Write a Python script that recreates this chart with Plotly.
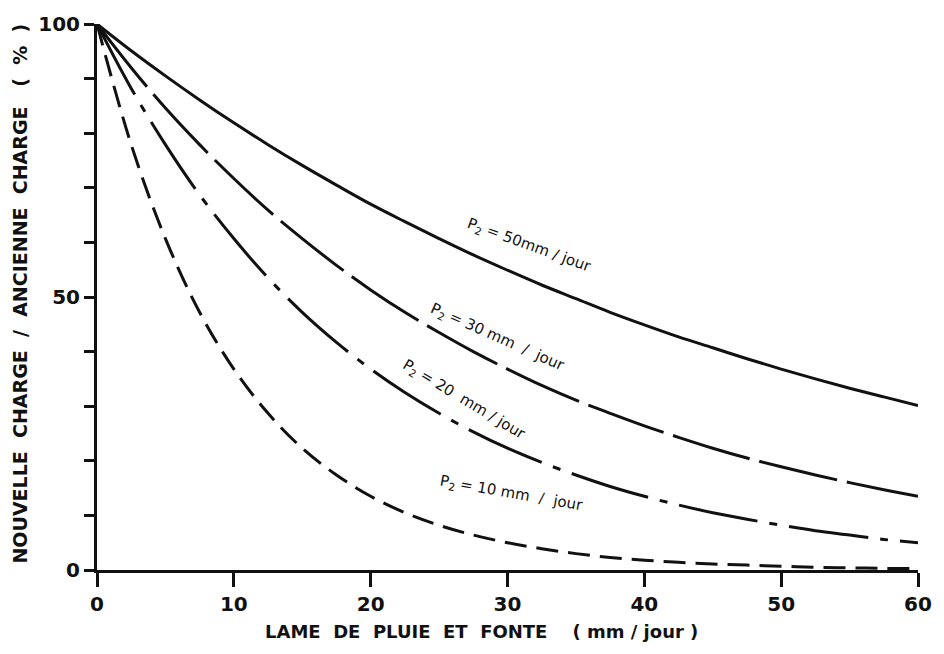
import plotly.graph_objects as go

# Values
x_vals = [0, 2.5, 5, 7.5, 10, 12.5, 15, 17.5, 20, 22.5, 25, 27.5, 30,
          32.5, 35, 37.5, 40, 42.5, 45, 47.5, 50, 52.5, 55, 57.5, 60]
p50 = [100, 95.1, 90.5, 86.1, 81.9, 77.9, 74.1, 70.5, 67.0, 63.8, 60.7, 57.7, 54.9,
       52.2, 49.7, 47.2, 44.9, 42.7, 40.7, 38.7, 36.8, 35.0, 33.3, 31.7, 30.1]
p30 = [100, 92.0, 84.6, 77.9, 71.7, 65.9, 60.7, 55.8, 51.3, 47.2, 43.5, 40.0, 36.8,
       33.8, 31.1, 28.7, 26.4, 24.3, 22.3, 20.5, 18.9, 17.4, 16.0, 14.7, 13.5]
p20 = [100, 88.2, 77.9, 68.7, 60.7, 53.5, 47.2, 41.7, 36.8, 32.5, 28.7, 25.3, 22.3,
       19.7, 17.4, 15.3, 13.5, 11.9, 10.5, 9.3, 8.2, 7.2, 6.4, 5.6, 5.0]
p10 = [100, 77.9, 60.7, 47.2, 36.8, 28.7, 22.3, 17.4, 13.5, 10.5, 8.2, 6.4, 5.0,
       3.9, 3.0, 2.3, 1.8, 1.4, 1.1, 0.9, 0.7, 0.5, 0.4, 0.3, 0.3]

series_names = ["P2 = 50 mm / jour", "P2 = 30 mm / jour", "P2 = 20 mm / jour", "P2 = 10 mm / jour"]
label_texts = ["P<sub>2</sub> = 50mm / jour", "P<sub>2</sub> = 30 mm  /  jour",
               "P<sub>2</sub> = 20  mm / jour", "P<sub>2</sub> = 10 mm  /  jour"]
label_x = [31.6, 29.3, 26.8, 30.3]
label_y = [59.5, 42.6, 31.2, 14.0]
label_angle = [20, 24, 31, 10]

y_tickvals = [0, 10, 20, 30, 40, 50, 60, 70, 80, 90, 100]
y_ticktext = ["<b>0</b>", "", "", "", "", "<b>50</b>", "", "", "", "", "<b>100</b>"]
x_tickvals = [0, 10, 20, 30, 40, 50, 60]
x_ticktext = ["<b>0</b>", "<b>10</b>", "<b>20</b>", "<b>30</b>", "<b>40</b>", "<b>50</b>", "<b>60</b>"]

dashes = ["solid", "80px,10px", "80px,12px,8px,12px", "22px,10px"]
series = [p50, p30, p20, p10]

FONT = "DejaVu Sans"
fig = go.Figure()
for name, ys, d in zip(series_names, series, dashes):
    fig.add_trace(go.Scatter(x=x_vals, y=ys, mode="lines", name=name,
                             line=dict(color="#111111", width=3, dash=d, shape="spline", smoothing=1)))

for t, lx, ly, ang in zip(label_texts, label_x, label_y, label_angle):
    fig.add_annotation(x=lx, y=ly, text=t, showarrow=False, textangle=ang,
                       font=dict(family=FONT, size=15, color="#111111"))

fig.add_annotation(xref="paper", yref="paper", x=0.468, y=-0.112, xanchor="center", yanchor="middle",
                   text="<b>LAME\u00a0 DE\u00a0 PLUIE\u00a0 ET\u00a0 FONTE\u00a0\u00a0\u00a0 (\u00a0mm /\u00a0jour\u00a0)</b>",
                   showarrow=False, font=dict(family=FONT, size=18, color="#111111"))
fig.add_annotation(xref="paper", yref="paper", x=-0.0933, y=0.507, xanchor="center", yanchor="middle",
                   textangle=-90,
                   text="<b>NOUVELLE\u00a0 CHARGE\u00a0 /\u00a0 ANCIENNE\u00a0 CHARGE\u00a0\u00a0 (\u00a0 %\u00a0 )</b>",
                   showarrow=False, font=dict(family=FONT, size=19, color="#111111"))

fig.update_layout(
    width=944, height=654, margin=dict(l=97, r=22, t=18, b=84),
    paper_bgcolor="white", plot_bgcolor="white", showlegend=False,
    font=dict(family=FONT, color="#111111"),
)
fig.update_xaxes(range=[0, 60], tickmode="array", tickvals=x_tickvals, ticktext=x_ticktext,
                 ticks="outside", ticklen=14, tickwidth=2.5, tickcolor="#111111",
                 showline=True, linewidth=3, linecolor="#111111", showgrid=False, zeroline=False,
                 tickfont=dict(family=FONT, size=20, color="#111111"))
fig.update_yaxes(range=[0, 100], tickmode="array", tickvals=y_tickvals, ticktext=y_ticktext,
                 ticks="outside", ticklen=10, tickwidth=2.5, tickcolor="#111111",
                 showline=True, linewidth=3, linecolor="#111111", showgrid=False, zeroline=False,
                 tickfont=dict(family=FONT, size=20, color="#111111"))

fig.write_html("out.html")
